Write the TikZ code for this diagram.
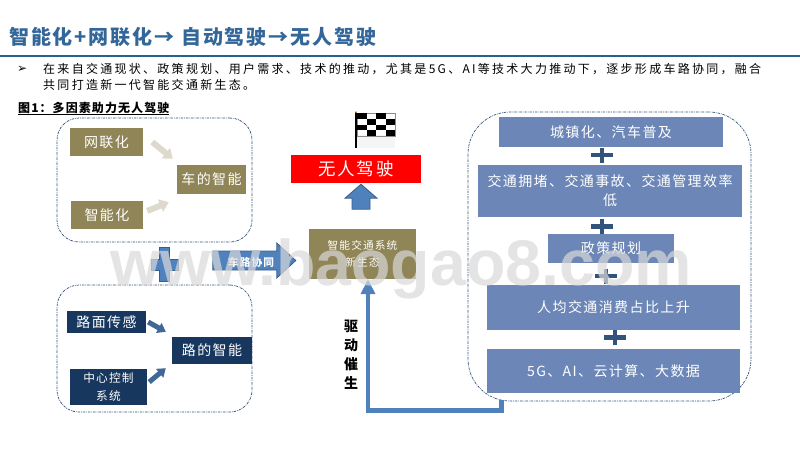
\documentclass[tikz,border=0pt]{standalone}
\usepackage{fontspec}
\usetikzlibrary{calc,arrows.meta}
\setmainfont{Noto Sans CJK SC}
\newfontfamily\boxfont[LetterSpace=10]{Noto Sans CJK SC}
\newfontfamily\bodyfont[LetterSpace=19]{Noto Sans CJK SC}
\newfontfamily\capfont[LetterSpace=9]{Noto Sans CJK SC}
\newfontfamily\titlefont[LetterSpace=9.5]{Noto Sans CJK SC}
\newfontfamily\symbfont{DejaVu Sans}
\newfontfamily\markfont{Liberation Sans}
\newcommand{\boxsize}[1]{\boxfont\fontsize{#1pt}{#1pt}\selectfont}
\newcommand{\plusmark}[2]{%
\draw[plusline] (#1-11,#2) -- (#1+11,#2);
\draw[plusline] (#1,#2-7.5) -- (#1,#2+7.5);}
\definecolor{olivebox}{HTML}{8F8557}
\definecolor{navybox}{HTML}{17375E}
\definecolor{slatebox}{HTML}{6C87B7}
\definecolor{blockblue}{HTML}{4F81BD}
\definecolor{blockedge}{HTML}{385D8A}
\definecolor{titleblue}{HTML}{336699}
\definecolor{ruleblue}{HTML}{1F6391}
\tikzset{>=Stealth,
  groupbox/.style={draw=blockedge!85!black,line width=.7pt,rounded corners=#1,dash pattern=on 2.5pt off 1pt on .7pt off 1pt},
  flatbox/.style={fill=#1,text=white,align=center,inner sep=0pt,font=\boxsize{14}},
  blockfill/.style={fill=blockblue,draw=blockedge,line width=.8pt},
  tanarrow/.style={draw=olivebox!30,line width=6pt,-{Triangle[length=9pt,width=13pt]}},
  bluearrow/.style={draw=blockblue!80!black,line width=5pt,-{Triangle[length=8pt,width=11pt]}},
  plusline/.style={draw=blockedge!90!black,line width=4.5pt},
  wiretext/.style={anchor=base west,inner sep=0pt}
}
\begin{document}
\begin{tikzpicture}[x=1pt,y=-1pt]
\useasboundingbox (0,0) rectangle (800,450);
\node[wiretext,text=titleblue,font=\titlefont\bfseries\fontsize{20pt}{20pt}\selectfont] (title) at (9,44) {智能化+网联化→ 自动驾驶→无人驾驶};
\draw[ruleblue,line width=2pt] (0,55.5) -- (800,55.5);
\node[wiretext,font=\symbfont\fontsize{12pt}{12pt}\selectfont] (bullet) at (17,72.5) {➢};
\node[wiretext,font=\bodyfont\fontsize{12pt}{12pt}\selectfont] (line1) at (43,73) {在来自交通现状、政策规划、用户需求、技术的推动，尤其是5G、AI等技术大力推动下，逐步形成车路协同，融合};
\node[wiretext,font=\bodyfont\fontsize{12pt}{12pt}\selectfont] (line2) at (43,89) {共同打造新一代智能交通新生态。};
\node[wiretext,font=\capfont\bfseries\fontsize{12pt}{12pt}\selectfont] (caption) at (18,112) {\underline{图1：多因素助力无人驾驶}};
% groups
\node[groupbox=22pt,minimum width=195pt,minimum height=124pt] (cargroup) at (154.5,180) {};
\node[groupbox=22pt,minimum width=195pt,minimum height=127pt] (roadgroup) at (154.5,348.5) {};
\node[groupbox=42pt,minimum width=283pt,minimum height=289pt] (drivegroup) at (609.5,256.5) {};
% car side
\node[flatbox=olivebox,minimum width=73pt,minimum height=28pt] (net) at (106.5,142) {网联化};
\node[flatbox=olivebox,minimum width=72pt,minimum height=28pt] (smart) at (107,215) {智能化};
\node[flatbox=olivebox,minimum width=69pt,minimum height=29pt] (carsmart) at (211.5,179.5) {车的智能};
\draw[tanarrow] ($(net.east)+(9,0)$) -- ($(carsmart.north west)+(-4,-6)$);
\draw[tanarrow] ($(smart.east)+(4,-4)$) -- ($(carsmart.south west)+(-8,8)$);
% road side
\node[flatbox=navybox,minimum width=79pt,minimum height=22pt] (sense) at (106.5,322) {路面传感};
\node[flatbox=navybox,minimum width=77pt,minimum height=36pt,font=\boxsize{11.7},align=center] (center) at (108.5,387) {中心控制\\[6pt]系统};
\node[flatbox=navybox,minimum width=80pt,minimum height=27pt] (roadsmart) at (212,350.5) {路的智能};
\draw[bluearrow] ($(sense.east)+(2,0)$) -- ($(roadsmart.north west)+(-6,-5)$);
\draw[bluearrow] ($(center.east)+(2,-5)$) -- ($(roadsmart.south west)+(-6,4)$);
% middle
\draw[blockfill] (159,247) -- (169,247) -- (169,259) -- (178,259) -- (178,270) -- (169,270) -- (169,281) -- (159,281) -- (159,270) -- (151,270) -- (151,259) -- (159,259) -- cycle;
\node[flatbox=olivebox,minimum width=107pt,minimum height=50pt,font=\boxsize{10.7},align=center] (system) at (362.5,254) {智能交通系统\\[6pt]新生态};
\node[flatbox=red,minimum width=130pt,minimum height=28pt,font=\boxsize{17.5}] (goal) at (356,169) {无人驾驶};
\coordinate (risetip) at ($(goal.south)+(5,1)$);
\draw[blockfill] (risetip) -- ++(16,14) -- ++(-7,0) -- ++(0,11) -- ++(-18,0) -- ++(0,-11) -- ++(-7,0) -- cycle;
\coordinate (corridortip) at ($(system.west)+(-13,6.5)$);
\draw[blockfill] (corridortip) -- ++(-19,-17.5) -- ++(0,8) -- ++(-64,0) -- ++(0,19) -- ++(64,0) -- ++(0,8) -- cycle;
\node[inner sep=0pt,text=white,font=\boxsize{10.7}\bfseries] (corridor) at (251,262) {车路协同};
% flag
\fill[black!4] (357,135) rectangle (395,148);
\draw[black!45,line width=.5pt] (357,113) rectangle (395,136);
\foreach \row in {0,...,3}{
  \foreach \col in {0,...,3}{
    \pgfmathtruncatemacro{\cellodd}{mod(\row+\col,2)}
    \ifnum\cellodd=0 \fill (357+9.5*\col,113+5.75*\row) rectangle +(9.5,5.75); \fi
  }
}
\draw[line width=2pt] (356,112) -- (356,148);
\fill[orange!70] (356,112) circle (1pt);
% drivers
\node[flatbox=slatebox,minimum width=224pt,minimum height=30pt] (urban) at (611,132) {城镇化、汽车普及};
\node[flatbox=slatebox,minimum width=264pt,minimum height=52pt,align=center] (traffic) at (610,191) {交通拥堵、交通事故、交通管理效率\\[5pt]低};
\node[flatbox=slatebox,minimum width=126pt,minimum height=29pt] (policy) at (611,248.5) {政策规划};
\node[flatbox=slatebox,minimum width=253pt,minimum height=45pt] (spend) at (613.5,307.5) {人均交通消费占比上升};
\node[flatbox=slatebox,minimum width=253pt,minimum height=44pt] (tech) at (613.5,371) {5G、AI、云计算、大数据};
\plusmark{602}{155}
\plusmark{602}{226.5}
\plusmark{606}{276}
\plusmark{615}{337.5}
% feedback
\draw[blockblue,line width=4.8pt,-{Triangle[length=15pt,width=14pt]}] ($(drivegroup.south)+(-108,-1)$) -- ++(0,10.5) -| ($(system.south)+(5.5,0)$);
\node[align=center,inner sep=0pt,font=\bfseries\fontsize{14}{19}\selectfont] (drive) at (351,355) {驱\\动\\催\\生};
% watermark
\node[wiretext,text=black!15,text opacity=.7,font=\markfont\bfseries\fontsize{64.5pt}{64.5pt}\selectfont] (mark) at (110,285) {www.baogao8.com};
\end{tikzpicture}
\end{document}
